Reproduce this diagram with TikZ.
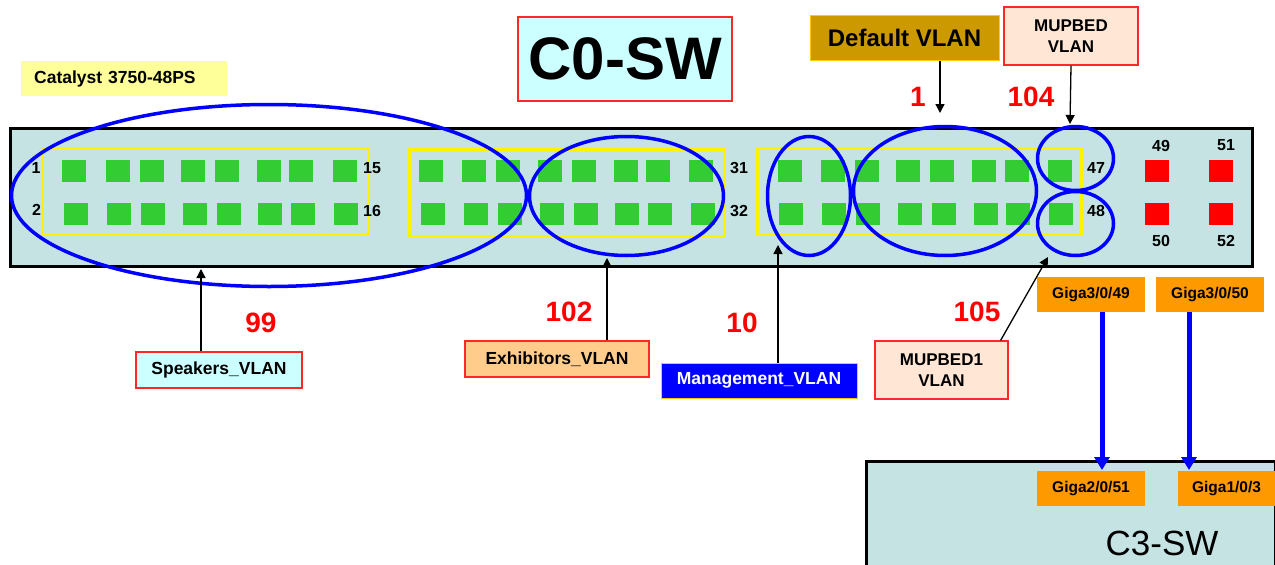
\documentclass[tikz,border=0pt]{standalone}
\usepackage{fontspec}
\setmainfont{Liberation Sans}
\usetikzlibrary{shapes.geometric,arrows.meta}
\definecolor{swfill}{RGB}{197,227,227}
\definecolor{cyanbox}{RGB}{204,255,255}
\definecolor{peach}{RGB}{255,230,213}
\definecolor{exorange}{RGB}{255,204,140}
\definecolor{gold}{RGB}{204,153,0}
\definecolor{goldline}{RGB}{255,204,0}
\definecolor{catyellow}{RGB}{255,255,153}
\definecolor{gigaorange}{RGB}{255,153,0}
\definecolor{boxred}{RGB}{255,40,40}
\definecolor{portgreen}{RGB}{51,204,51}
\begin{document}
\begin{tikzpicture}[x=1pt,y=-1pt,
  box/.style={draw=boxred, line width=1.2pt, inner sep=0pt, align=center},
  lab/.style={font=\fontsize{17.5}{22}\selectfont\bfseries},
  mlab/.style={font=\fontsize{17}{22}\selectfont\bfseries},
  rnum/.style={text=red, font=\fontsize{28}{30}\selectfont\bfseries, inner sep=0pt},
  port/.style={font=\fontsize{16}{18}\selectfont\bfseries, inner sep=0pt},
  vring/.style={ellipse, draw=blue, line width=3.5pt, inner sep=0pt},
  grp/.style={draw=yellow, line width=3pt, inner sep=0pt},
  giga/.style={fill=gigaorange, inner sep=0pt, minimum height=35pt, font=\fontsize{15.5}{18}\selectfont\bfseries},
  arr/.style={-{Triangle[length=9pt,width=9pt]}, line width=1.3pt},
  barr/.style={draw=blue, line width=5pt, -{Triangle[length=13pt,width=15pt]}}
]
\useasboundingbox (0,0) rectangle (1275,565);
\clip (0,0) rectangle (1275,565);

% labels on top
\node[fill=catyellow, minimum width=206pt, minimum height=35pt, inner xsep=13pt, text width=180pt, align=left, lab, anchor=west] (cat) at (21,78.5) {Catalyst 3750-48PS};
\node[box, fill=cyanbox, minimum width=214pt, minimum height=84pt, font=\fontsize{60}{64}\selectfont\bfseries] (c0) at (625,59) {C0-SW};
\node[draw=goldline, line width=1pt, fill=gold, minimum width=189pt, minimum height=45pt, inner sep=0pt, font=\fontsize{24}{28}\selectfont\bfseries] (dv) at (904.5,37.5) {Default VLAN};
\node[box, fill=peach, minimum width=134pt, minimum height=58pt, mlab] (mup) at (1071,36) {MUPBED\\[-1pt]VLAN};

% switch
\node[draw=black, line width=3pt, fill=swfill, minimum width=1242pt, minimum height=138pt, inner sep=0pt] (sw) at (631.5,197.5) {};
\node[grp, minimum width=326pt, minimum height=86pt] (g1) at (205,191) {};
\node[grp, minimum width=315pt, minimum height=87pt] (g2) at (566.5,192.5) {};
\node[grp, minimum width=324pt, minimum height=86pt] (g3) at (919,191) {};

\foreach \x in {62,106,140,181,215,257,289,333,419,462,496,538,572,614,646,689,778,821,855,896,930,972,1005,1048}
  \fill[portgreen] (\x,160) rectangle ++(24,22);
\foreach \x in {64,107,141,183,217,258,291,334,421,464,498,540,574,615,648,691,779,822,856,898,932,974,1006,1049}
  \fill[portgreen] (\x,203) rectangle ++(24,22);
\foreach \x in {1145,1209} {
  \fill[red] (\x,160) rectangle ++(24,22);
  \fill[red] (\x,203) rectangle ++(24,22);
}

\node[port] (p1) at (36,168) {1};
\node[port] (p2) at (36.5,210) {2};
\node[port] (p15) at (372,168) {15};
\node[port] (p16) at (372,211) {16};
\node[port] (p31) at (739,168) {31};
\node[port] (p32) at (739,211) {32};
\node[port] (p47) at (1096,168) {47};
\node[port] (p48) at (1096,211) {48};
\node[port] (p49) at (1161,146) {49};
\node[port] (p51) at (1226,145) {51};
\node[port] (p50) at (1161,241) {50};
\node[port] (p52) at (1226,241) {52};

% VLAN rings
\node[vring, minimum width=515pt, minimum height=182pt] (e99) at (269,195.5) {};
\node[vring, minimum width=194pt, minimum height=119pt] (e102) at (626.5,196) {};
\node[vring, minimum width=83pt, minimum height=119pt] (e10) at (809,196) {};
\node[vring, minimum width=183pt, minimum height=129pt] (e1) at (945,191) {};
\node[vring, minimum width=76pt, minimum height=64pt] (e104) at (1075.5,158.5) {};
\node[vring, minimum width=76pt, minimum height=64pt] (e105) at (1075.5,223.5) {};

% red VLAN numbers
\node[rnum] (n1) at (918,97) {1};
\node[rnum] (n104) at (1031,97) {104};
\node[rnum] (n99) at (261,323) {99};
\node[rnum] (n102) at (569,312) {102};
\node[rnum] (n10) at (742,323) {10};
\node[rnum] (n105) at (977,312) {105};

% lower labels
\node[box, fill=cyanbox, minimum width=166pt, minimum height=36pt, lab] (sp) at (219,370) {Speakers\_VLAN};
\node[box, fill=exorange, minimum width=184pt, minimum height=36pt, lab] (ex) at (557,359) {Exhibitors\_VLAN};
\node[draw=goldline, line width=1pt, fill=blue, text=white, inner sep=0pt, minimum width=196pt, minimum height=35pt, lab] (mg) at (759,380.5) {Management\_VLAN};
\node[box, fill=peach, minimum width=133pt, minimum height=58pt, mlab] (mup1) at (941.5,370) {MUPBED1\\[-1pt]VLAN};

% C3 switch
\node[draw=black, line width=3pt, fill=swfill, minimum width=409pt, minimum height=140pt, inner sep=0pt, anchor=north west] (c3) at (865,460) {};
\node[font=\fontsize{35}{40}\selectfont, inner sep=0pt] (c3t) at (1162,543) {C3-SW};

\node[giga, minimum width=108pt] (g349) at (1091,294.5) {Giga3/0/49};
\node[giga, minimum width=108pt] (g350) at (1210,294.5) {Giga3/0/50};
\node[giga, minimum width=108pt] (g251) at (1091,488.5) {Giga2/0/51};
\node[giga, minimum width=97pt] (g13) at (1226.5,488.5) {Giga1/0/3};

% arrows
\coordinate (a1) at (940,113);
\coordinate (a104) at (1070,124);
\coordinate (a99) at (201,269);
\coordinate (a102) at (607,258);
\coordinate (a10) at (778,245);
\coordinate (a105) at (1048,257);
\coordinate (b1) at (1102,470);
\coordinate (b2) at (1189,470);
\draw[arr] (dv.south -| a1) -- (a1);
\draw[arr] (mup.south) -- (a104);
\draw[arr] (sp.north -| a99) -- (a99);
\draw[arr] (ex.north -| a102) -- (a102);
\draw[arr] (mg.north -| a10) -- (a10);
\draw[arr] ([xshift=-8pt]mup1.north east) -- (a105);
\draw[barr] (g349.south -| b1) -- (b1);
\draw[barr] (g350.south -| b2) -- (b2);
\end{tikzpicture}
\end{document}
